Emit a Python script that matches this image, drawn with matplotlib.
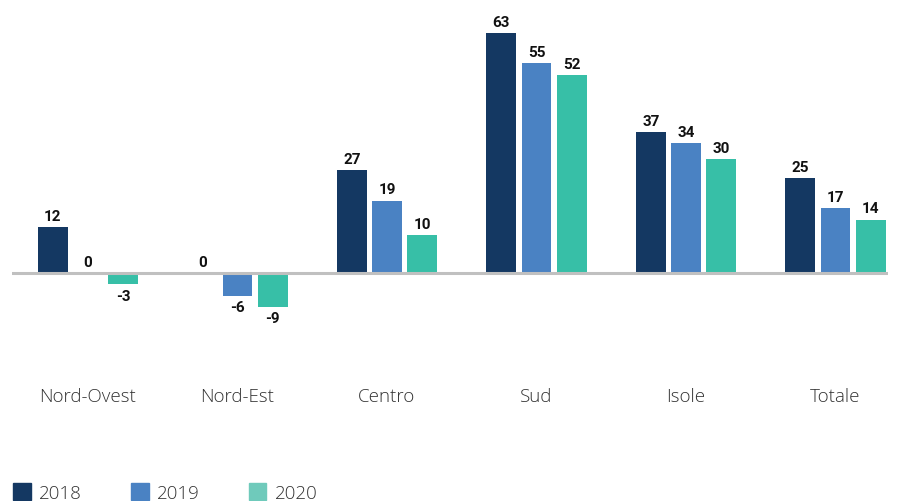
import numpy as np
import matplotlib.pyplot as plt
from matplotlib.patches import Patch
from matplotlib.transforms import blended_transform_factory

regioni = ["Nord-Ovest", "Nord-Est", "Centro", "Sud", "Isole", "Totale"]
anni = ["2018", "2019", "2020"]
v2018 = [12, 0, 27, 63, 37, 25]
v2019 = [0, -6, 19, 55, 34, 17]
v2020 = [-3, -9, 10, 52, 30, 14]

colori = ["#143862", "#4a82c3", "#37bfa7"]
colori_leg = ["#143862", "#4a82c3", "#6fcabb"]

fig = plt.figure(figsize=(9.04, 5.02), dpi=100)
ax = fig.add_axes([12/904, (502-332)/502, 876/904, 310/502])

x = np.arange(len(regioni))
passo = 0.235
larg = 0.2
for i, (serie, col) in enumerate(zip([v2018, v2019, v2020], colori)):
    xs = x + (i - 1) * passo
    ax.bar(xs, serie, width=larg, color=col, zorder=2)
    for xi, v in zip(xs, serie):
        if v >= 0:
            ax.annotate(str(v), (xi, v), xytext=(0, 3), textcoords="offset points",
                        ha="center", va="bottom", fontsize=11, fontweight="bold",
                        family="Roboto", color="#111111")
        else:
            ax.annotate(str(v), (xi, v), xytext=(0, -3), textcoords="offset points",
                        ha="center", va="top", fontsize=11, fontweight="bold",
                        family="Roboto", color="#111111")

ax.axhline(0, color="#c0c0c0", lw=2.2, zorder=3)
ax.set_xlim(-76/149.5, 800/149.5)
ax.set_ylim((272-330)/3.81, 252/3.81)
ax.axis("off")

tr = blended_transform_factory(ax.transData, fig.transFigure)
for xi, r in zip(x, regioni):
    ax.text(xi, (502-397)/502, r, transform=tr, ha="center", va="center",
            fontsize=13.5, family="Open Sans", fontweight="light", color="#333333")

maniglie = [Patch(color=c, label=a) for c, a in zip(colori_leg, anni)]
fig.legend(handles=maniglie, loc="lower left", bbox_to_anchor=(13/904, -1/502), ncol=3,
           frameon=False, borderpad=0, borderaxespad=0,
           handlelength=0.95, handleheight=0.95, handletextpad=0.45,
           columnspacing=2.6, prop={"family": "Open Sans", "size": 13.5, "weight": "light"},
           labelcolor="#333333")

fig.savefig("out.png", dpi=100)
